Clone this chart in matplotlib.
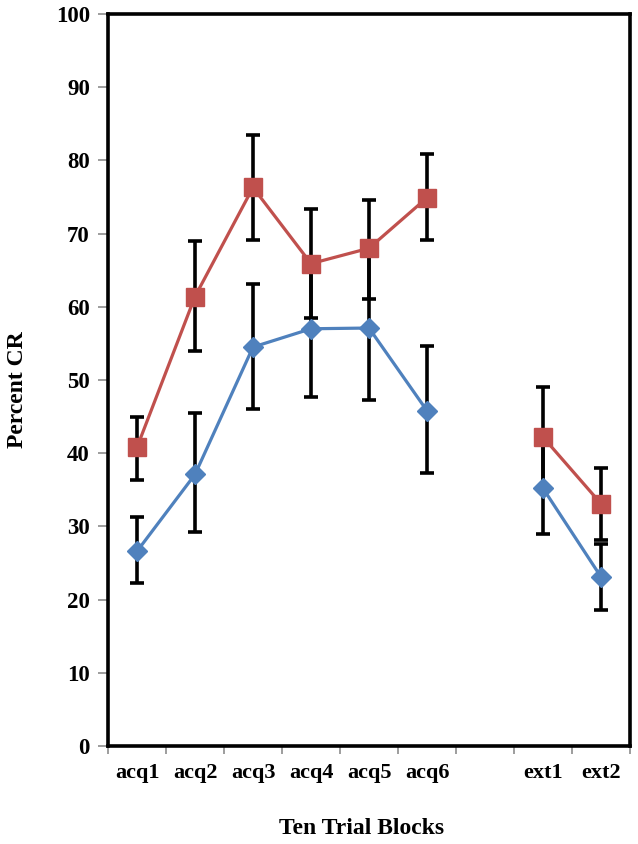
import numpy as np
import matplotlib
matplotlib.use("Agg")
import matplotlib.pyplot as plt

# ---- data (NaN = empty slot between acq and ext) ----
blocks = ["acq1", "acq2", "acq3", "acq4", "acq5", "acq6", "", "ext1", "ext2"]

red_mean = [40.8, 61.4, 76.3, 65.9, 68.0, 74.9, np.nan, 42.2, 33.1]
red_low = [36.4, 54.0, 69.1, 58.5, 61.1, 69.1, np.nan, 35.4, 28.2]
red_high = [44.9, 69.0, 83.5, 73.3, 74.6, 80.9, np.nan, 49.0, 38.0]

blue_mean = [26.6, 37.1, 54.5, 57.0, 57.1, 45.8, np.nan, 35.2, 23.1]
blue_low = [22.2, 29.2, 46.1, 47.7, 47.3, 37.3, np.nan, 28.9, 18.6]
blue_high = [31.3, 45.5, 63.1, 66.3, 66.9, 54.6, np.nan, 41.5, 27.6]

RED = "#C0504D"
BLUE = "#4F81BD"

plt.rcParams["font.family"] = ["Liberation Serif", "DejaVu Serif"]
plt.rcParams["font.weight"] = "bold"

fig = plt.figure(figsize=(6.38, 8.44), dpi=100)
ax = fig.add_axes([108 / 638, 1 - 746 / 844, 522 / 638, 732 / 844])

x = np.arange(len(blocks))


def draw_series(mean, low, high, color, marker, ms):
    mean = np.array(mean)
    yerr = np.vstack([mean - np.array(low), np.array(high) - mean])
    ax.errorbar(x, mean, yerr=yerr, fmt="none", ecolor="black",
                elinewidth=2.6, capsize=5, capthick=2.6, zorder=2)
    ax.plot(x, mean, color=color, linewidth=2.3, marker=marker,
            markersize=ms, markerfacecolor=color, markeredgecolor=color,
            zorder=3)


draw_series(blue_mean, blue_low, blue_high, BLUE, "D", 10.5)
draw_series(red_mean, red_low, red_high, RED, "s", 13.5)

ax.set_xlim(-0.5, len(blocks) - 0.5)
ax.set_ylim(0, 100)
ax.set_yticks(np.arange(0, 101, 10))

# category boundaries carry the tick marks, labels sit in the middle
ax.set_xticks(np.arange(-0.5, len(blocks), 1.0))
ax.set_xticklabels([])
ax.set_xticks(x, minor=True)
ax.set_xticklabels(blocks, minor=True)
ax.tick_params(axis="x", which="minor", length=0, pad=12, labelsize=16)
ax.tick_params(axis="x", which="major", length=6, width=1.2,
               color="#8c8c8c", direction="out")
ax.tick_params(axis="y", length=7, width=1.2, color="#8c8c8c",
               direction="out", pad=6, labelsize=16.5)

for lab in ax.get_xticklabels(minor=True) + ax.get_yticklabels():
    lab.set_fontweight("bold")

for side in ["left", "bottom", "top", "right"]:
    ax.spines[side].set_linewidth(2.6)
    ax.spines[side].set_color("black")

fig.text(18 / 638, 1 - 390 / 844, "Percent CR", rotation=90,
         ha="center", va="center", fontsize=17, fontweight="bold")
fig.text(362 / 638, 1 - 829 / 844, "Ten Trial Blocks",
         ha="center", va="center", fontsize=17, fontweight="bold")

fig.savefig("out.png", dpi=100)
